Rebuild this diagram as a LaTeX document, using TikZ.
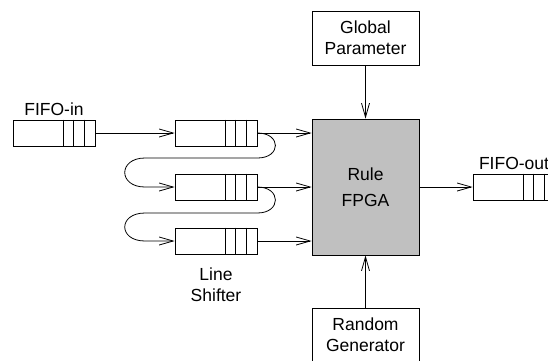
\documentclass[tikz,border=0pt]{standalone}
\usepackage{fontspec}
\setmainfont{Liberation Sans}
\usetikzlibrary{arrows.meta}
\definecolor{fpgagray}{RGB}{192,192,192}
\begin{document}
\begin{tikzpicture}[x=1pt,y=-1pt,line width=0.8pt,
	font=\fontsize{17.5}{21}\selectfont,
	arr/.style={-{Straight Barb[length=14pt,width=8pt,line width=0.8pt]}},
	queue/.style={draw,minimum width=82,minimum height=26,inner sep=0},
	block/.style={draw,minimum width=107,align=center}]
\clip (0,0) rectangle (548,360);
\node[queue] (fifoin) at (54,133) {};
\node[above] at (fifoin.north) {FIFO-in};
\foreach \s / \y in {sh1/133, sh2/187, sh3/241}
	\node[queue] (\s) at (216,\y) {};
\node[align=center,below=10pt] at (sh3.south) {Line\\Shifter};
\node[block,minimum height=136,fill=fpgagray,
	font=\fontsize{17.5}{26}\selectfont] (fpga) at (365.5,187) {Rule\\FPGA};
\node[block,minimum height=54] (glob) at (365.5,38) {Global\\Parameter};
\node[block,minimum height=54] (rand) at (365.5,335) {Random\\Generator};
\node[queue] (fifoout) at (514,187) {};
\node[above] at (fifoout.north) {FIFO-out};
% queue cells
\foreach \s in {fifoin,sh1,sh2,sh3,fifoout}
	\foreach \d in {11,22,32}
		\draw ([xshift=-\d]\s.north east) -- ([xshift=-\d]\s.south east);
\draw[arr] (fifoin) -- (sh1);
\foreach \a / \b / \y in {sh1/sh2/158, sh2/sh3/213}
	\draw[arr] (\a.east) .. controls +(24,0) and +(24,0) .. (\a.east |- 0,\y)
		-- (145,\y) .. controls +(-27,0) and +(-27,0) .. (145,\y |- \b.west)
		-- (\b.west);
\foreach \s in {sh1,sh2,sh3}
	\draw[arr] (\s.east) -- (\s.east -| fpga.west);
\draw[arr] (glob) -- (fpga);
\draw[arr] (rand) -- (fpga);
\draw[arr] (fpga) -- (fifoout);
\end{tikzpicture}
\end{document}
